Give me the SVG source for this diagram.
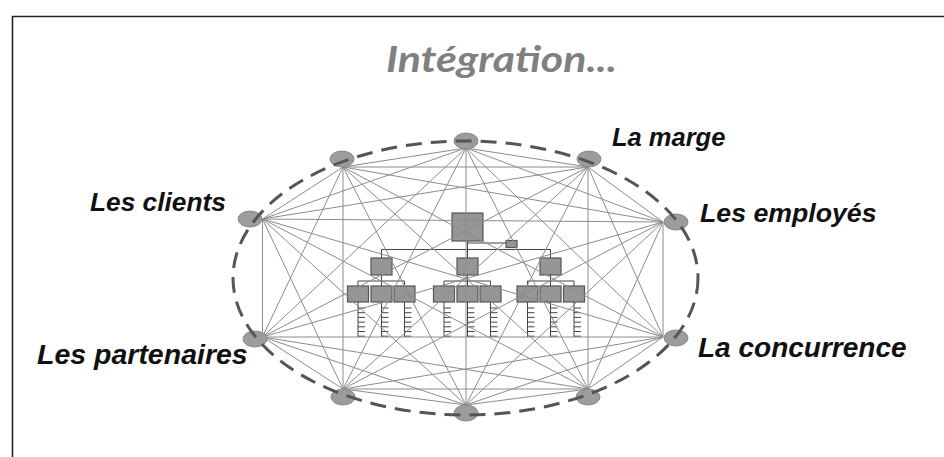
<svg xmlns="http://www.w3.org/2000/svg" width="944" height="457" viewBox="0 0 944 457">
<style>
.lbl{font-family:"Liberation Sans",Arial,sans-serif;font-weight:bold;font-style:italic;font-size:26px;fill:#111}
.ttl{font-family:Lato,"Open Sans",sans-serif;font-weight:bold;font-style:italic;font-size:36px;fill:#808080}
.edge{stroke:#8c8c8c;stroke-width:1;fill:none}
.node{fill:#9c9c9c;stroke:#8a8a8a;stroke-width:1}
.box{fill:#969696;stroke:#555;stroke-width:1.2}
.tree{stroke:#444;stroke-width:1;fill:none}
</style>
<rect width="944" height="457" fill="#fff"/>
<path d="M12.5 457 V16.5 H944" fill="none" stroke="#222" stroke-width="1.6"/>
<text class="ttl" x="386" y="72" textLength="231" lengthAdjust="spacingAndGlyphs">Intégration...</text>

<g id="orgchart">
  <rect class="box" x="452" y="213" width="31" height="28"/>
  <rect class="box" x="506" y="240.5" width="11" height="7"/>
  <path class="tree" d="M467.5 241 V258 M467.5 243 H506 M381.5 249.5 H550.5 M381.5 249.5 V258 M550.5 249.5 V258"/>
  <rect class="box" x="371" y="258" width="21" height="17"/>
  <rect class="box" x="457" y="258" width="21" height="17"/>
  <rect class="box" x="540" y="258" width="21" height="17"/>
  <path class="tree" d="M381.5 275 V281 M358 281 H404.5 M358 281 V286 M381.5 281 V286 M404.5 281 V286
    M467.5 275 V281 M444 281 H490.5 M444 281 V286 M467.5 281 V286 M490.5 281 V286
    M550.5 275 V281 M527.5 281 H574 M527.5 281 V286 M550.5 281 V286 M574 281 V286"/>
  <rect class="box" x="347.5" y="286" width="21" height="16"/>
  <rect class="box" x="371" y="286" width="21" height="16"/>
  <rect class="box" x="394" y="286" width="21" height="16"/>
  <rect class="box" x="433.5" y="286" width="21" height="16"/>
  <rect class="box" x="457" y="286" width="21" height="16"/>
  <rect class="box" x="480" y="286" width="21" height="16"/>
  <rect class="box" x="517" y="286" width="21" height="16"/>
  <rect class="box" x="540" y="286" width="21" height="16"/>
  <rect class="box" x="563.5" y="286" width="21" height="16"/>
  <defs>
    <path id="ticks" class="tree" d="M0 0 V35 M0 6 H7 M0 10.7 H7 M0 15.4 H7 M0 20.1 H7 M0 24.8 H7 M0 29.5 H7 M0 34.2 H7"/>
  </defs>
  <use href="#ticks" x="358" y="302"/>
  <use href="#ticks" x="381.5" y="302"/>
  <use href="#ticks" x="404.5" y="302"/>
  <use href="#ticks" x="444" y="302"/>
  <use href="#ticks" x="467.5" y="302"/>
  <use href="#ticks" x="490.5" y="302"/>
  <use href="#ticks" x="527.5" y="302"/>
  <use href="#ticks" x="550.5" y="302"/>
  <use href="#ticks" x="574" y="302"/>
</g>

<g id="connectors">
<path class="edge" d="
M466 148 L588 167 M466 148 L663 222 M466 148 L663 337 M466 148 L588 389 M466 148 L466 405 M466 148 L343 389 M466 148 L262.5 337 M466 148 L262.5 219 M466 148 L343 167
M588 167 L663 222 M588 167 L663 337 M588 167 L588 389 M588 167 L466 405 M588 167 L343 389 M588 167 L262.5 337 M588 167 L262.5 219 M588 167 L343 167
M663 222 L663 337 M663 222 L588 389 M663 222 L466 405 M663 222 L343 389 M663 222 L262.5 337 M663 222 L262.5 219 M663 222 L343 167
M663 337 L588 389 M663 337 L466 405 M663 337 L343 389 M663 337 L262.5 337 M663 337 L262.5 219 M663 337 L343 167
M588 389 L466 405 M588 389 L343 389 M588 389 L262.5 337 M588 389 L262.5 219 M588 389 L343 167
M466 405 L343 389 M466 405 L262.5 337 M466 405 L262.5 219 M466 405 L343 167
M343 389 L262.5 337 M343 389 L262.5 219 M343 389 L343 167
M262.5 337 L262.5 219 M262.5 337 L343 167
M262.5 219 L343 167"/>
</g>

<g id="n-top"><ellipse class="node" cx="466" cy="141" rx="12" ry="8"/></g>
<g id="n-topright"><ellipse class="node" cx="589" cy="159" rx="12" ry="8"/></g>
<g id="n-right"><ellipse class="node" cx="676" cy="222" rx="12" ry="8"/></g>
<g id="n-bottomright"><ellipse class="node" cx="676" cy="338" rx="12" ry="8"/></g>
<g id="n-bottomright2"><ellipse class="node" cx="588" cy="397" rx="12" ry="8"/></g>
<g id="n-bottom"><ellipse class="node" cx="466" cy="413" rx="12" ry="8"/></g>
<g id="n-bottomleft2"><ellipse class="node" cx="343" cy="397" rx="12" ry="8"/></g>
<g id="n-bottomleft"><ellipse class="node" cx="255" cy="339" rx="12" ry="8"/></g>
<g id="n-left"><ellipse class="node" cx="250" cy="219" rx="12" ry="8"/></g>
<g id="n-topleft"><ellipse class="node" cx="342" cy="159" rx="12" ry="8"/></g>

<g id="boundary"><ellipse cx="465.5" cy="278" rx="232.5" ry="137" fill="none" stroke="#555" stroke-width="3" stroke-dasharray="16 9"/></g>

<g id="label-marge"><text class="lbl" x="612" y="146" style="font-size:25.5px">La marge</text></g>
<g id="label-clients"><text class="lbl" x="90" y="211" style="font-size:26.3px">Les clients</text></g>
<g id="label-employes"><text class="lbl" x="700" y="222" style="font-size:26.7px">Les employés</text></g>
<g id="label-partenaires"><text class="lbl" x="37" y="364" style="font-size:28.5px">Les partenaires</text></g>
<g id="label-concurrence"><text class="lbl" x="698" y="357" style="font-size:28px">La concurrence</text></g>
</svg>
